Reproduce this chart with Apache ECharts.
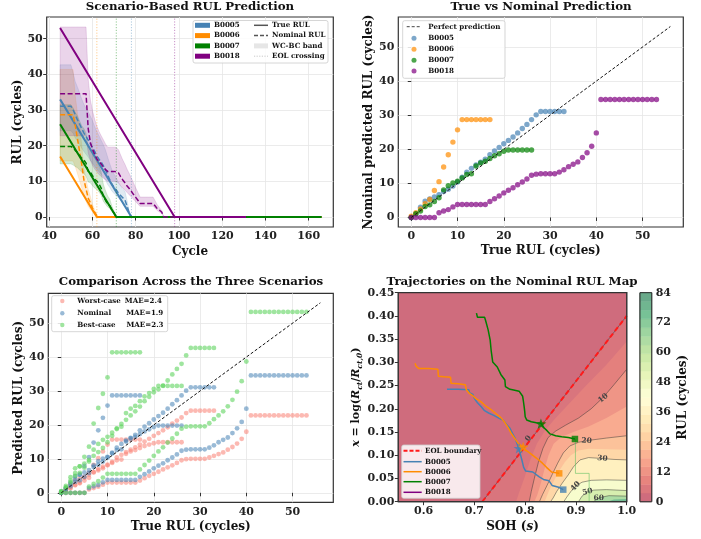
<!DOCTYPE html>
<html>
<head>
<meta charset="utf-8">
<script src="https://cdn.jsdelivr.net/npm/echarts@6/dist/echarts.min.js"></script>
<style>html,body{margin:0;padding:0;background:#fff}#chart{width:701px;height:539px}</style>
</head>
<body>
<div id="chart"></div>
<script>
// ---------------- data ----------------
const batteries = ['B0005', 'B0006', 'B0007', 'B0018'];
const batteryColors = ['#4682b4', '#ff8c00', '#008000', '#800080'];
const eolCycles = [78, 62, 71, 98];

// true RUL paths (cycle, RUL) for each cell
const trueRulB0005 = [[45, 33], [78, 0], [166, 0]];
const trueRulB0006 = [[45, 17], [62, 0], [166, 0]];
const trueRulB0007 = [[45, 26], [71, 0], [166, 0]];
const trueRulB0018 = [[45, 53], [98, 0], [131, 0]];

// predicted RUL indexed by true RUL (0, 1, 2, ...)
const nominalB0005 = [0, 1.1, 3.0, 4.8, 5.4, 6.0, 6.7, 7.6, 8.3, 9.2, 10.4, 11.8, 13.3, 14.4, 15.4, 16.2, 17.1, 18.4, 19.5, 20.5, 21.6, 22.6, 23.6, 24.8, 26.1, 27.3, 28.7, 30.1, 31.1, 31.1, 31.1, 31.1, 31.1, 31.1];
const worstB0005 = [0, 0.9, 2.4, 3.6, 4.2, 4.7, 5.3, 6.0, 6.6, 7.2, 8.3, 9.1, 10.4, 11.2, 12.0, 12.7, 13.4, 14.2, 15.1, 15.9, 16.8, 17.6, 18.4, 19.3, 20.4, 21.3, 22.2, 23.5, 24.2, 24.2, 24.2, 24.2, 24.2, 24.2];
const bestB0005 = [0.3, 1.5, 4.6, 7.2, 7.8, 8.6, 9.7, 10.9, 12.0, 13.2, 14.9, 16.8, 18.8, 20.3, 21.5, 22.8, 24.0, 25.4, 27.0, 28.3, 29.6, 30.5, 31.6, 33.1, 34.9, 36.5, 38.0, 40.5, 42.7, 42.7, 42.7, 42.7, 42.7, 42.7];

const nominalB0006 = [0.4, 1.4, 2.5, 4.0, 5.3, 7.9, 10.5, 14.8, 18.4, 22.1, 25.7, 28.7, 28.7, 28.7, 28.7, 28.7, 28.7, 28.7];
const worstB0006 = [0.2, 0.8, 1.4, 2.2, 3.0, 4.4, 5.9, 8.2, 10.2, 12.2, 14.2, 15.7, 15.7, 15.7, 15.7, 15.7, 15.7, 15.7];
const bestB0006 = [0.5, 2.0, 3.6, 5.8, 7.8, 10.6, 13.6, 20.4, 25.0, 29.2, 34.0, 41.4, 41.4, 41.4, 41.4, 41.4, 41.4, 41.4];

const nominalB0007 = [0, 1.1, 1.9, 3.2, 3.7, 4.7, 5.8, 8.1, 9.3, 10.1, 10.6, 11.6, 12.6, 12.8, 15.1, 16.0, 16.5, 17.3, 18.1, 18.7, 19.4, 19.8, 19.8, 19.8, 19.8, 19.8, 19.8];
const worstB0007 = [0.1, 0.8, 1.5, 2.4, 2.8, 3.6, 4.4, 6.1, 7.0, 7.7, 8.1, 8.8, 9.6, 9.8, 11.5, 12.2, 12.6, 13.2, 13.8, 14.2, 14.6, 14.9, 14.9, 14.9, 14.9, 14.9, 14.9];
const bestB0007 = [0.2, 1.6, 3.0, 5.0, 5.9, 7.4, 9.2, 12.7, 14.4, 15.6, 16.5, 17.7, 19.0, 19.5, 23.5, 24.8, 25.6, 27.0, 28.4, 29.4, 30.6, 31.5, 31.5, 31.5, 31.5, 31.5, 31.5];

const nominalB0018 = [0, 0, 0, 0, 0, 0, 1.4, 1.9, 2.3, 3.1, 3.8, 3.8, 3.8, 3.8, 3.8, 3.8, 3.8, 4.7, 5.5, 6.3, 7.2, 8.0, 8.7, 9.6, 10.4, 11.3, 12.4, 12.7, 12.8, 12.8, 12.8, 12.8, 13.3, 14.0, 14.9, 15.6, 16.3, 17.6, 19.0, 20.9, 24.8, 34.6, 34.6, 34.6, 34.6, 34.6, 34.6, 34.6, 34.6, 34.6, 34.6, 34.6, 34.6, 34.6];
const worstB0018 = [0, 0, 0, 0, 0, 0, 1.0, 1.4, 1.8, 2.4, 3.0, 3.0, 3.0, 3.0, 3.0, 3.0, 3.0, 3.6, 4.3, 5.0, 5.6, 6.2, 6.9, 7.5, 8.1, 8.8, 9.6, 9.9, 10.0, 10.0, 10.0, 10.0, 10.4, 10.9, 11.4, 11.9, 12.7, 13.5, 14.5, 15.9, 18.0, 22.8, 22.8, 22.8, 22.8, 22.8, 22.8, 22.8, 22.8, 22.8, 22.8, 22.8, 22.8, 22.8];
const bestB0018 = [0, 0, 0, 0, 0, 0, 1.8, 2.6, 3.4, 4.5, 5.6, 5.6, 5.6, 5.6, 5.6, 5.6, 5.6, 6.9, 8.2, 9.5, 10.9, 12.2, 13.4, 14.8, 16.0, 17.4, 18.9, 19.5, 19.6, 19.6, 19.6, 19.6, 20.5, 21.7, 22.8, 24.0, 25.5, 27.4, 29.8, 32.9, 38.7, 53.3, 53.3, 53.3, 53.3, 53.3, 53.3, 53.3, 53.3, 53.3, 53.3, 53.3, 53.3, 53.3];

const scenarioNames = ['Worst-case', 'Nominal', 'Best-case'];
const scenarioMae = ['MAE=2.4', 'MAE=1.9', 'MAE=2.3'];

const perfectLine = [[0, 0], [56, 56]];

// nominal RUL map: level curves in (SOH, x), each from the right edge to the bottom edge
const eolBoundary = [[0.7155, 0.0], [1.0, 0.40]];
const levelValues = [0, 5, 10, 15, 20, 25, 30, 40, 50, 60, 70];
const levelCurves = [
  [[1.0, 0.400], [0.7155, 0.0]],
  [[1.0, 0.345], [0.96, 0.295], [0.92, 0.250], [0.89, 0.215], [0.86, 0.180], [0.84, 0.155], [0.823, 0.125], [0.81, 0.090], [0.798, 0.050], [0.788, 0.020], [0.782, 0.0]],
  [[1.0, 0.285], [0.975, 0.252], [0.954, 0.225], [0.93, 0.200], [0.905, 0.180], [0.88, 0.165], [0.86, 0.152], [0.845, 0.138], [0.835, 0.115], [0.826, 0.085], [0.818, 0.050], [0.812, 0.022], [0.808, 0.0]],
  [[1.0, 0.205], [0.96, 0.180], [0.925, 0.162], [0.895, 0.150], [0.872, 0.140], [0.856, 0.125], [0.846, 0.100], [0.838, 0.070], [0.831, 0.040], [0.824, 0.015], [0.818, 0.0]],
  [[1.0, 0.142], [0.96, 0.137], [0.925, 0.132], [0.905, 0.128], [0.888, 0.120], [0.875, 0.105], [0.864, 0.083], [0.853, 0.058], [0.843, 0.035], [0.834, 0.015], [0.828, 0.0]],
  [[1.0, 0.112], [0.96, 0.113], [0.925, 0.114], [0.905, 0.110], [0.89, 0.100], [0.878, 0.085], [0.868, 0.068], [0.858, 0.048], [0.848, 0.026], [0.842, 0.010], [0.838, 0.0]],
  [[1.0, 0.090], [0.975, 0.091], [0.951, 0.093], [0.925, 0.095], [0.908, 0.090], [0.895, 0.075], [0.885, 0.058], [0.873, 0.040], [0.862, 0.022], [0.855, 0.008], [0.85, 0.0]],
  [[1.0, 0.046], [0.96, 0.047], [0.93, 0.046], [0.912, 0.042], [0.900, 0.034], [0.89, 0.022], [0.882, 0.010], [0.876, 0.0]],
  [[1.0, 0.024], [0.96, 0.026], [0.935, 0.025], [0.922, 0.021], [0.912, 0.012], [0.905, 0.0]],
  [[1.0, 0.012], [0.965, 0.013], [0.948, 0.009], [0.938, 0.003], [0.935, 0.0]],
  [[1.0, 0.006], [0.975, 0.005], [0.962, 0.0]]
];
const drawnLevels = [0, 10, 20, 30, 40, 50, 60];
const levelLabels = [
  [0.806, 0.136, '0', 52], [0.954, 0.223, '10', 40], [0.921, 0.131, '20', -4],
  [0.952, 0.093, '30', -5], [0.899, 0.033, '40', 48], [0.923, 0.021, '50', 14], [0.945, 0.007, '60', 0]
];

// SOH / resistance trajectories (start square first)
const trajB0005 = [[0.875, 0.026], [0.866, 0.031], [0.853, 0.035], [0.847, 0.045], [0.836, 0.048], [0.827, 0.054], [0.815, 0.064], [0.801, 0.066], [0.797, 0.074], [0.793, 0.092], [0.788, 0.112], [0.784, 0.125], [0.780, 0.137], [0.775, 0.147], [0.770, 0.158], [0.763, 0.167], [0.757, 0.175], [0.748, 0.180], [0.738, 0.186], [0.728, 0.191], [0.720, 0.196], [0.713, 0.205], [0.706, 0.213], [0.700, 0.222], [0.697, 0.231], [0.690, 0.235], [0.689, 0.241], [0.668, 0.242], [0.646, 0.242]];
const trajB0006 = [[0.867, 0.061], [0.852, 0.064], [0.842, 0.074], [0.834, 0.083], [0.822, 0.094], [0.810, 0.104], [0.800, 0.112], [0.793, 0.120], [0.786, 0.126], [0.779, 0.137], [0.772, 0.148], [0.766, 0.160], [0.759, 0.172], [0.752, 0.181], [0.742, 0.190], [0.732, 0.199], [0.721, 0.207], [0.712, 0.216], [0.703, 0.222], [0.697, 0.228], [0.690, 0.233], [0.684, 0.241], [0.682, 0.252], [0.668, 0.254], [0.654, 0.255], [0.653, 0.268], [0.640, 0.269], [0.629, 0.270], [0.628, 0.285], [0.610, 0.287], [0.590, 0.287], [0.585, 0.292], [0.583, 0.298]];
const trajB0007 = [[0.898, 0.135], [0.885, 0.138], [0.872, 0.140], [0.860, 0.142], [0.849, 0.146], [0.843, 0.153], [0.838, 0.158], [0.831, 0.169], [0.822, 0.170], [0.812, 0.172], [0.803, 0.176], [0.800, 0.183], [0.799, 0.195], [0.798, 0.204], [0.796, 0.220], [0.795, 0.227], [0.788, 0.238], [0.775, 0.241], [0.770, 0.242], [0.761, 0.248], [0.760, 0.262], [0.752, 0.274], [0.745, 0.290], [0.736, 0.301], [0.733, 0.325], [0.731, 0.348], [0.727, 0.370], [0.722, 0.390], [0.720, 0.397], [0.706, 0.397], [0.704, 0.406]];
const earlyB0007 = [[0.926, 0.0], [0.926, 0.061], [0.899, 0.061], [0.899, 0.135]];
const eolPoints = [[0.788, 0.115], [0.796, 0.118], [0.831, 0.168]];

// axis ticks
const cycleTicks = [40, 60, 80, 100, 120, 140, 160];
const rulTicks = [0, 10, 20, 30, 40, 50];
const sohTicks = [0.6, 0.7, 0.8, 0.9, 1.0];
const damageTicks = [0, 0.05, 0.10, 0.15, 0.20, 0.25, 0.30, 0.35, 0.40, 0.45];
const colorbarTicks = [0, 12, 24, 36, 48, 60, 72, 84];

// ---------------- helpers ----------------
const trueRul = [trueRulB0005, trueRulB0006, trueRulB0007, trueRulB0018];
const nominalRul = [nominalB0005, nominalB0006, nominalB0007, nominalB0018];
const worstRul = [worstB0005, worstB0006, worstB0007, worstB0018];
const bestRul = [bestB0005, bestB0006, bestB0007, bestB0018];
const trajectories = [trajB0005, trajB0006, trajB0007];

const FONT = '"DejaVu Serif"';
const TICK_SIZE = 11;
const NAME_SIZE = 12;
const RDYLGN = [[165, 0, 38], [215, 48, 39], [244, 109, 67], [253, 174, 97], [254, 224, 139], [255, 255, 191], [217, 239, 139], [166, 217, 106], [102, 189, 99], [26, 152, 80], [0, 104, 55]];
function cmap(v, alpha) {
  const t = Math.max(0, Math.min(1, v / 84)) * 10;
  const i = Math.min(9, Math.floor(t));
  const f = t - i;
  const c = RDYLGN[i].map((a, k) => a + (RDYLGN[i + 1][k] - a) * f);
  const b = c.map(a => Math.round(a * alpha + 255 * (1 - alpha)));
  return 'rgb(' + b.join(',') + ')';
}

function valueAxis(gridIndex, min, max, ticks, fmt, name, nameGap, extra) {
  return Object.assign({
    type: 'value', gridIndex, min, max,
    axisLine: { show: false },
    axisTick: { show: true, customValues: ticks, length: 3.5, lineStyle: { color: '#333', width: 1 } },
    axisLabel: { customValues: ticks, formatter: fmt, fontFamily: FONT, fontWeight: 'bold', fontSize: TICK_SIZE, color: '#222', margin: 4 },
    splitLine: { show: true, lineStyle: { color: '#e6e6e6', width: 0.8 } },
    name, nameLocation: 'middle', nameGap,
    nameTextStyle: { fontFamily: FONT, fontWeight: 'bold', fontSize: NAME_SIZE, color: '#111' }
  }, extra || {});
}

function polySeries(idx, polys, styleFn, z) {
  return {
    type: 'custom', xAxisIndex: idx, yAxisIndex: idx, silent: true, z: z || 2,
    data: polys.map((p, i) => [p[0][0], p[0][1], i]),
    encode: { x: 0, y: 1 },
    renderItem: (params, api) => ({
      type: 'polygon',
      shape: { points: polys[params.dataIndex].map(pt => api.coord(pt)) },
      style: styleFn(params.dataIndex)
    })
  };
}
function polylineSeries(idx, lines, styleFn, z) {
  return {
    type: 'custom', xAxisIndex: idx, yAxisIndex: idx, silent: true, z: z || 2,
    data: lines.map((p, i) => [p[0][0], p[0][1], i]),
    encode: { x: 0, y: 1 },
    renderItem: (params, api) => ({
      type: 'polyline',
      shape: { points: lines[params.dataIndex].map(pt => api.coord(pt)) },
      style: styleFn(params.dataIndex)
    })
  };
}

const series = [];

// ---------- panel 1: RUL vs cycle ----------
const bandPolys = batteries.map((b, i) => {
  const eol = eolCycles[i];
  const upper = bestRul[i].map((v, r) => [eol - r, v]).reverse();
  const lower = worstRul[i].map((v, r) => [eol - r, v]);
  return upper.concat(lower);
});
series.push(polySeries(0, bandPolys, i => ({ fill: batteryColors[i], stroke: batteryColors[i], lineWidth: 0.8, opacity: 0.17 })));
batteries.forEach((b, i) => {
  series.push({ type: 'line', xAxisIndex: 0, yAxisIndex: 0, data: trueRul[i], showSymbol: false, silent: true,
    lineStyle: { color: batteryColors[i], width: 2 }, z: 3 });
  series.push({ type: 'line', xAxisIndex: 0, yAxisIndex: 0, showSymbol: false, silent: true,
    data: nominalRul[i].map((v, r) => [eolCycles[i] - r, v]).reverse(),
    lineStyle: { color: batteryColors[i], width: 1.5, type: [5, 2.5] }, z: 3 });
  series.push({ type: 'line', xAxisIndex: 0, yAxisIndex: 0, showSymbol: false, silent: true,
    data: [[eolCycles[i], -2.8], [eolCycles[i], 56.1]],
    lineStyle: { color: batteryColors[i], width: 0.8, type: [1.2, 1.6], opacity: 0.55 }, z: 3 });
});

// ---------- panel 2: true vs nominal ----------
batteries.forEach((b, i) => {
  series.push({ type: 'scatter', xAxisIndex: 1, yAxisIndex: 1, silent: true, symbolSize: 5.4,
    data: nominalRul[i].map((v, r) => [r, v]),
    itemStyle: { color: batteryColors[i], opacity: 0.7 } });
});
series.push({ type: 'line', xAxisIndex: 1, yAxisIndex: 1, data: perfectLine, showSymbol: false, silent: true,
  lineStyle: { color: '#111', width: 1, type: [3, 2] }, z: 4 });

// ---------- panel 3: three scenarios ----------
const scenarioColors = ['#fa8072', '#4682b4', '#5fd35f'];
const scenarioOpacity = [0.55, 0.55, 0.6];
[worstRul, nominalRul, bestRul].forEach((set, k) => {
  const pts = [];
  set.forEach(arr => arr.forEach((v, r) => pts.push([r, v])));
  series.push({ type: 'scatter', xAxisIndex: 2, yAxisIndex: 2, silent: true, symbolSize: 4.8, data: pts,
    itemStyle: { color: scenarioColors[k], opacity: scenarioOpacity[k] } });
});
series.push({ type: 'line', xAxisIndex: 2, yAxisIndex: 2, data: perfectLine, showSymbol: false, silent: true,
  lineStyle: { color: '#111', width: 1, type: [3, 2] }, z: 4 });

// ---------- panel 4: RUL map with trajectories ----------
const mapPolys = [[[0.55, 0], [0.55, 0.45], [1.0, 0.45], [1.0, 0]]].concat(levelCurves.map(c => c.concat([[1.0, 0]])));
const fillValues = [1.75].concat(levelValues.map((v, i) => i + 1 < levelValues.length ? (v + levelValues[i + 1]) / 2 : 77));
fillValues[1] = 4.5;
series.push(polySeries(3, mapPolys, i => ({ fill: cmap(fillValues[i], 0.6) }), 1));
const drawnCurves = levelCurves.filter((c, i) => drawnLevels.indexOf(levelValues[i]) >= 0);
series.push(polylineSeries(3, drawnCurves, () => ({ stroke: '#333', lineWidth: 0.8, opacity: 0.6, fill: null }), 2));
series.push({
  type: 'custom', xAxisIndex: 3, yAxisIndex: 3, silent: true, z: 3,
  data: levelLabels.map(l => [l[0], l[1]]), encode: { x: 0, y: 1 },
  renderItem: (params, api) => {
    const l = levelLabels[params.dataIndex];
    const p = api.coord([l[0], l[1]]);
    return { type: 'text', x: p[0], y: p[1], rotation: l[3] * Math.PI / 180,
      style: { text: l[2], fill: '#444', font: 'bold 7.5px ' + FONT, align: 'center', verticalAlign: 'middle',
        textAlign: 'center', textVerticalAlign: 'middle' } };
  }
});
series.push({ type: 'line', xAxisIndex: 3, yAxisIndex: 3, data: eolBoundary, showSymbol: false, silent: true,
  lineStyle: { color: '#ff1a1a', width: 2, type: [5, 3] }, z: 4 });
series.push({ type: 'line', xAxisIndex: 3, yAxisIndex: 3, data: earlyB0007, showSymbol: false, silent: true,
  lineStyle: { color: '#66c266', width: 1, opacity: 0.6 }, z: 4 });
trajectories.forEach((t, i) => {
  series.push({ type: 'line', xAxisIndex: 3, yAxisIndex: 3, data: t, showSymbol: false, silent: true,
    lineStyle: { color: batteryColors[i], width: 1.5 }, z: 5 });
});
const STAR = 'path://M0,-10L2.35,-3.24L9.51,-3.09L3.8,1.24L5.88,8.09L0,4L-5.88,8.09L-3.8,1.24L-9.51,-3.09L-2.35,-3.24Z';
trajectories.forEach((t, i) => {
  series.push({ type: 'scatter', xAxisIndex: 3, yAxisIndex: 3, silent: true, data: [t[0]], symbol: 'rect', symbolSize: 6.5,
    itemStyle: { color: batteryColors[i] }, z: 6 });
  series.push({ type: 'scatter', xAxisIndex: 3, yAxisIndex: 3, silent: true, data: [eolPoints[i]], symbol: STAR, symbolKeepAspect: true, symbolSize: 11,
    itemStyle: { color: batteryColors[i] }, z: 6 });
});

// colorbar
const cbBands = [];
for (let k = 0; k < 24; k++) cbBands.push([[0, k * 3.5], [1, k * 3.5], [1, (k + 1) * 3.5], [0, (k + 1) * 3.5]]);
series.push(polySeries(4, cbBands, i => ({ fill: cmap((i + 0.5) * 3.5, 0.6), stroke: cmap((i + 0.5) * 3.5, 0.6), lineWidth: 0.5 })));

// ---------------- graphic: titles, legends, frames ----------------
const G = [];
function txt(x, y, text, font, extra) {
  G.push(Object.assign({ type: 'text', x, y, z: 100, silent: true,
    style: { text, font, fill: '#111', align: 'left', verticalAlign: 'middle', textAlign: 'left', textVerticalAlign: 'middle' } }, extra || {}));
}
function title(x, y, text) {
  G.push({ type: 'text', x, y, z: 100, silent: true,
    style: { text, font: 'bold 11.8px ' + FONT, fill: '#111', align: 'center', verticalAlign: 'middle', textAlign: 'center', textVerticalAlign: 'middle' } });
}
function line(x1, y1, x2, y2, stroke, w, dash, op) {
  G.push({ type: 'line', z: 100, silent: true, shape: { x1, y1, x2, y2 }, style: { stroke, lineWidth: w, lineDash: dash || null, opacity: op == null ? 1 : op } });
}
function rect(x, y, w, h, fill, stroke, r, op) {
  G.push({ type: 'rect', z: 100, silent: true, shape: { x, y, width: w, height: h, r: r || 0 }, style: { fill, stroke: stroke || null, lineWidth: 0.8, opacity: op == null ? 1 : op } });
}
function dot(x, y, rr, fill, op) {
  G.push({ type: 'circle', z: 100, silent: true, shape: { cx: x, cy: y, r: rr }, style: { fill, opacity: op } });
}
const LF = 'bold 7.1px ' + FONT;

title(190, 7, 'Scenario-Based RUL Prediction');
title(541, 7, 'True vs Nominal Prediction');
title(191, 282, 'Comparison Across the Three Scenarios');
title(512, 282, 'Trajectories on the Nominal RUL Map');

// panel 1 legend
rect(193, 20.5, 135, 42.5, 'rgba(255,255,255,0.85)', '#cccccc', 2);
const rows1 = [25.3, 35.6, 45.9, 56.2];
batteries.forEach((b, i) => {
  rect(195, rows1[i] - 2.5, 15, 5, batteryColors[i]);
  txt(214, rows1[i], b, LF);
});
line(254, rows1[0], 268, rows1[0], '#555', 1.5);
txt(272, rows1[0], 'True RUL', LF);
line(254, rows1[1], 268, rows1[1], '#555', 1.5, [4, 2]);
txt(272, rows1[1], 'Nominal RUL', LF);
rect(254, rows1[2] - 2.5, 14, 5, '#e6e6e6');
txt(272, rows1[2], 'WC-BC band', LF);
line(254, rows1[3], 268, rows1[3], '#bbbbbb', 0.8, [1.2, 1.4]);
txt(272, rows1[3], 'EOL crossing', LF);

// panel 2 legend
rect(402.7, 20.7, 102.3, 57.6, 'rgba(255,255,255,0.85)', '#cccccc', 2);
const rows2 = [26.7, 38.3, 49.3, 60.3, 71];
line(406.7, rows2[0], 421.7, rows2[0], '#444', 1, [3, 2]);
txt(428.3, rows2[0], 'Perfect prediction', LF);
batteries.forEach((b, i) => {
  dot(414, rows2[i + 1], 2.5, batteryColors[i], 0.7);
  txt(428.3, rows2[i + 1], b, LF);
});

// panel 3 legend
rect(51.7, 295.7, 116, 36, 'rgba(255,255,255,0.85)', '#cccccc', 2);
const rows3 = [301, 313.3, 325];
const maeX = [124.8, 126.2, 126.5];
scenarioNames.forEach((n, k) => {
  dot(62.3, rows3[k], 2.2, scenarioColors[k], scenarioOpacity[k]);
  txt(77.3, rows3[k], n, LF);
  txt(maeX[k], rows3[k], scenarioMae[k], LF);
});

// panel 4 frame, colorbar frame and legend
rect(398.3, 292.7, 228.4, 209, null, '#333', 0);
G[G.length - 1].style.lineWidth = 1.2;
rect(640, 292.7, 11.7, 209, null, '#333', 0);
G[G.length - 1].style.lineWidth = 1;
rect(401.7, 445, 78.3, 53.3, 'rgba(255,255,255,0.85)', '#cccccc', 2);
const rows4 = [450.7, 461.7, 471.7, 481.7, 492.3];
line(403.5, rows4[0], 421.7, rows4[0], '#ff1a1a', 2, [4, 2]);
txt(425, rows4[0], 'EOL boundary', LF);
batteries.forEach((b, i) => {
  line(403.5, rows4[i + 1], 421.7, rows4[i + 1], batteryColors[i], 1.5);
  txt(425, rows4[i + 1], b, LF);
});

// ---------------- option ----------------
const gridBase = { show: true, borderColor: '#333', borderWidth: 1.2, backgroundColor: 'transparent', containLabel: false };
const nameRich = {
  i: { fontFamily: FONT, fontWeight: 'bold', fontStyle: 'italic', fontSize: NAME_SIZE }
};

const option = {
  animation: false,
  backgroundColor: '#ffffff',
  grid: [
    Object.assign({ left: 46.7, top: 17, width: 286.6, height: 210 }, gridBase),
    Object.assign({ left: 398.3, top: 17, width: 285, height: 210 }, gridBase),
    Object.assign({ left: 48.3, top: 293.3, width: 285, height: 209 }, gridBase),
    Object.assign({ left: 398.3, top: 292.7, width: 228.4, height: 209 }, gridBase),
    Object.assign({ left: 640, top: 292.7, width: 11.7, height: 209 }, gridBase, { borderWidth: 1 })
  ],
  xAxis: [
    valueAxis(0, 38.8, 171.4, cycleTicks, v => v, 'Cycle', 19),
    valueAxis(1, -2.8, 58.8, rulTicks, v => v, 'True RUL (cycles)', 18),
    valueAxis(2, -2.8, 58.8, rulTicks, v => v, 'True RUL (cycles)', 19),
    valueAxis(3, 0.55, 1.0, sohTicks, v => v.toFixed(1), 'SOH ({i|s})', 19,
      { splitLine: { show: false }, nameTextStyle: { fontFamily: FONT, fontWeight: 'bold', fontSize: NAME_SIZE, color: '#111', rich: nameRich } }),
    { type: 'value', gridIndex: 4, min: 0, max: 1, show: false }
  ],
  yAxis: [
    valueAxis(0, -2.8, 56.1, rulTicks, v => v, 'RUL (cycles)', 22),
    valueAxis(1, -2.8, 58.8, rulTicks, v => v, 'Nominal predicted RUL (cycles)', 22),
    valueAxis(2, -2.8, 58.8, rulTicks, v => v, 'Predicted RUL (cycles)', 22),
    valueAxis(3, 0, 0.45, damageTicks, v => v.toFixed(2), '{i|x} = log({i|R}{s|ct}/{i|R}{s|ct,0})', 33,
      { splitLine: { show: false }, nameTextStyle: { fontFamily: FONT, fontWeight: 'bold', fontSize: 11, color: '#111', lineHeight: 14,
        rich: {
          i: { fontFamily: FONT, fontWeight: 'bold', fontStyle: 'italic', fontSize: 11 },
          s: { fontFamily: FONT, fontWeight: 'bold', fontStyle: 'italic', fontSize: 7.5, verticalAlign: 'bottom', lineHeight: 14 }
        } } }),
    valueAxis(4, 0, 84, colorbarTicks, v => v, 'RUL (cycles)', 25,
      { position: 'right', splitLine: { show: false }, nameRotate: 90, axisLabel: { customValues: colorbarTicks, fontFamily: FONT, fontWeight: 'bold', fontSize: TICK_SIZE, color: '#222', margin: 4 } })
  ],
  series,
  graphic: { elements: G }
};

const chart = echarts.init(document.getElementById('chart'), null, { renderer: 'canvas', width: 701, height: 539 });
chart.setOption(option);
</script>
</body>
</html>
